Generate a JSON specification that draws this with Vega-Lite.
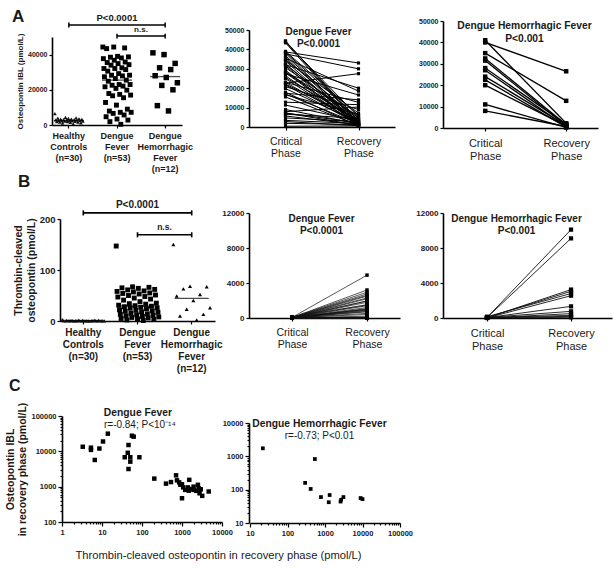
{
  "$schema": "https://vega.github.io/schema/vega-lite/v6.json",
  "padding": {"left": 5, "top": 8, "right": 2, "bottom": 2},
  "config": {
    "font": "Liberation Sans",
    "view": {"stroke": null},
    "axis": {"grid": false, "domainColor": "#000", "domainWidth": 1.6, "tickColor": "#000", "tickWidth": 1.2, "tickSize": 3, "labelFontWeight": "bold", "labelFontSize": 7.5, "labelColor": "#1a1a1a", "titleFontWeight": "bold", "titleColor": "#1a1a1a", "labelPadding": 2, "labelFlush": false, "titlePadding": 3},
    "title": {"color": "#1a1a1a", "subtitleColor": "#1a1a1a", "fontWeight": "bold"},
    "text": {"color": "#1a1a1a"}
  },
  "datasets": {
    "opn": [
      {"group":"HC","id":1,"critical":6400},{"group":"HC","id":12,"critical":4300},{"group":"HC","id":23,"critical":4100},{"group":"HC","id":4,"critical":3850},{"group":"HC","id":15,"critical":3700},{"group":"HC","id":26,"critical":3550},{"group":"HC","id":7,"critical":3400},{"group":"HC","id":18,"critical":3350},{"group":"HC","id":29,"critical":3200},{"group":"HC","id":10,"critical":3100},{"group":"HC","id":21,"critical":3050},{"group":"HC","id":2,"critical":2900},{"group":"HC","id":13,"critical":2800},{"group":"HC","id":24,"critical":2750},{"group":"HC","id":5,"critical":2600},{"group":"HC","id":16,"critical":2500},{"group":"HC","id":27,"critical":2450},{"group":"HC","id":8,"critical":2350},{"group":"HC","id":19,"critical":2300},{"group":"HC","id":30,"critical":2200},{"group":"HC","id":11,"critical":2150},{"group":"HC","id":22,"critical":2000},{"group":"HC","id":3,"critical":1900},{"group":"HC","id":14,"critical":1850},{"group":"HC","id":25,"critical":1700},{"group":"HC","id":6,"critical":1600},{"group":"HC","id":17,"critical":1450},{"group":"HC","id":28,"critical":1250},{"group":"HC","id":9,"critical":1050},{"group":"HC","id":20,"critical":700},
      {"group":"DF","id":1,"critical":44300,"recovery":3200},{"group":"DF","id":21,"critical":44300,"recovery":2100},{"group":"DF","id":41,"critical":43800,"recovery":5200},{"group":"DF","id":8,"critical":43400,"recovery":1500},{"group":"DF","id":28,"critical":39000,"recovery":6100},{"group":"DF","id":48,"critical":38700,"recovery":33000},{"group":"DF","id":15,"critical":38500,"recovery":4300},{"group":"DF","id":35,"critical":38100,"recovery":900},{"group":"DF","id":2,"critical":37700,"recovery":30000},{"group":"DF","id":22,"critical":36800,"recovery":2600},{"group":"DF","id":42,"critical":35800,"recovery":1200},{"group":"DF","id":9,"critical":35500,"recovery":18500},{"group":"DF","id":29,"critical":34900,"recovery":3700},{"group":"DF","id":49,"critical":34300,"recovery":7200},{"group":"DF","id":16,"critical":34000,"recovery":800},{"group":"DF","id":36,"critical":32500,"recovery":1900},{"group":"DF","id":3,"critical":32100,"recovery":20000},{"group":"DF","id":23,"critical":32100,"recovery":2900},{"group":"DF","id":43,"critical":31500,"recovery":600},{"group":"DF","id":10,"critical":30600,"recovery":4800},{"group":"DF","id":30,"critical":29200,"recovery":1100},{"group":"DF","id":50,"critical":28300,"recovery":2300},{"group":"DF","id":17,"critical":28300,"recovery":5600},{"group":"DF","id":37,"critical":27900,"recovery":1400},{"group":"DF","id":4,"critical":27400,"recovery":16500},{"group":"DF","id":24,"critical":26400,"recovery":700},{"group":"DF","id":44,"critical":25500,"recovery":3400},{"group":"DF","id":11,"critical":24900,"recovery":1000},{"group":"DF","id":31,"critical":23000,"recovery":12700},{"group":"DF","id":51,"critical":23000,"recovery":2000},{"group":"DF","id":18,"critical":22600,"recovery":27500},{"group":"DF","id":38,"critical":22100,"recovery":4000},{"group":"DF","id":5,"critical":21700,"recovery":1300},{"group":"DF","id":25,"critical":20800,"recovery":9000},{"group":"DF","id":45,"critical":19800,"recovery":2500},{"group":"DF","id":12,"critical":17900,"recovery":500},{"group":"DF","id":32,"critical":17400,"recovery":14000},{"group":"DF","id":52,"critical":17000,"recovery":1700},{"group":"DF","id":19,"critical":16600,"recovery":6600},{"group":"DF","id":39,"critical":15500,"recovery":850},{"group":"DF","id":6,"critical":12800,"recovery":11500},{"group":"DF","id":26,"critical":11300,"recovery":3000},{"group":"DF","id":46,"critical":9000,"recovery":1600},{"group":"DF","id":13,"critical":7900,"recovery":10300},{"group":"DF","id":33,"critical":7200,"recovery":2200},{"group":"DF","id":53,"critical":7200,"recovery":950},{"group":"DF","id":20,"critical":6600,"recovery":4500},{"group":"DF","id":40,"critical":5700,"recovery":1150},{"group":"DF","id":7,"critical":4700,"recovery":2700},{"group":"DF","id":27,"critical":3400,"recovery":1800},{"group":"DF","id":47,"critical":2800,"recovery":650},{"group":"DF","id":14,"critical":1900,"recovery":1250},{"group":"DF","id":34,"critical":400,"recovery":550},
      {"group":"DHF","id":1,"critical":41000,"recovery":2200},{"group":"DHF","id":6,"critical":40000,"recovery":26500},{"group":"DHF","id":11,"critical":35000,"recovery":12700},{"group":"DHF","id":4,"critical":32500,"recovery":1500},{"group":"DHF","id":9,"critical":31500,"recovery":900},{"group":"DHF","id":2,"critical":28000,"recovery":1800},{"group":"DHF","id":7,"critical":27000,"recovery":600},{"group":"DHF","id":12,"critical":24000,"recovery":1200},{"group":"DHF","id":5,"critical":22500,"recovery":400},{"group":"DHF","id":10,"critical":20000,"recovery":1000},{"group":"DHF","id":3,"critical":11000,"recovery":300},{"group":"DHF","id":8,"critical":8000,"recovery":700}
    ],
    "tc": [
      {"group":"HC","id":1,"critical":2.5},{"group":"HC","id":12,"critical":1.8},{"group":"HC","id":23,"critical":1.5},{"group":"HC","id":4,"critical":1.4},{"group":"HC","id":15,"critical":1.2},{"group":"HC","id":26,"critical":1.1},{"group":"HC","id":7,"critical":1.0},{"group":"HC","id":18,"critical":0.9},{"group":"HC","id":29,"critical":0.9},{"group":"HC","id":10,"critical":0.8},{"group":"HC","id":21,"critical":0.8},{"group":"HC","id":2,"critical":0.7},{"group":"HC","id":13,"critical":0.7},{"group":"HC","id":24,"critical":0.6},{"group":"HC","id":5,"critical":0.6},{"group":"HC","id":16,"critical":0.5},{"group":"HC","id":27,"critical":0.5},{"group":"HC","id":8,"critical":0.5},{"group":"HC","id":19,"critical":0.4},{"group":"HC","id":30,"critical":0.4},{"group":"HC","id":11,"critical":0.3},{"group":"HC","id":22,"critical":0.3},{"group":"HC","id":3,"critical":0.3},{"group":"HC","id":14,"critical":0.2},{"group":"HC","id":25,"critical":0.2},{"group":"HC","id":6,"critical":0.2},{"group":"HC","id":17,"critical":0.1},{"group":"HC","id":28,"critical":0.1},{"group":"HC","id":9,"critical":0.1},{"group":"HC","id":20,"critical":0},
      {"group":"DF","id":1,"critical":147,"recovery":1480},{"group":"DF","id":21,"critical":67,"recovery":2600},{"group":"DF","id":41,"critical":66,"recovery":4900},{"group":"DF","id":8,"critical":65,"recovery":30},{"group":"DF","id":28,"critical":64,"recovery":1000},{"group":"DF","id":48,"critical":62,"recovery":3200},{"group":"DF","id":15,"critical":61,"recovery":56},{"group":"DF","id":35,"critical":59,"recovery":2290},{"group":"DF","id":2,"critical":58,"recovery":750},{"group":"DF","id":22,"critical":57,"recovery":1950},{"group":"DF","id":42,"critical":55,"recovery":12},{"group":"DF","id":9,"critical":54,"recovery":2950},{"group":"DF","id":29,"critical":53,"recovery":398},{"group":"DF","id":49,"critical":51,"recovery":1520},{"group":"DF","id":16,"critical":50,"recovery":5.3},{"group":"DF","id":36,"critical":48,"recovery":2750},{"group":"DF","id":3,"critical":47,"recovery":910},{"group":"DF","id":23,"critical":45,"recovery":46},{"group":"DF","id":43,"critical":43,"recovery":2500},{"group":"DF","id":10,"critical":41,"recovery":1800},{"group":"DF","id":30,"critical":38,"recovery":203},{"group":"DF","id":50,"critical":35,"recovery":1070},{"group":"DF","id":17,"critical":34,"recovery":20},{"group":"DF","id":37,"critical":33,"recovery":1950},{"group":"DF","id":4,"critical":31,"recovery":850},{"group":"DF","id":24,"critical":30,"recovery":1400},{"group":"DF","id":44,"critical":29,"recovery":62},{"group":"DF","id":11,"critical":28,"recovery":1200},{"group":"DF","id":31,"critical":27,"recovery":3.3},{"group":"DF","id":51,"critical":26,"recovery":710},{"group":"DF","id":18,"critical":25,"recovery":1000},{"group":"DF","id":38,"critical":24,"recovery":86},{"group":"DF","id":5,"critical":22,"recovery":530},{"group":"DF","id":25,"critical":21,"recovery":14},{"group":"DF","id":45,"critical":20,"recovery":2200},{"group":"DF","id":12,"critical":19,"recovery":51},{"group":"DF","id":32,"critical":18,"recovery":8.6},{"group":"DF","id":52,"critical":17,"recovery":25},{"group":"DF","id":19,"critical":15,"recovery":44},{"group":"DF","id":39,"critical":14,"recovery":5.3},{"group":"DF","id":6,"critical":13,"recovery":37},{"group":"DF","id":26,"critical":12,"recovery":10.6},{"group":"DF","id":46,"critical":11,"recovery":15},{"group":"DF","id":13,"critical":10,"recovery":6.6},{"group":"DF","id":33,"critical":9,"recovery":51},{"group":"DF","id":53,"critical":8,"recovery":9},{"group":"DF","id":20,"critical":7,"recovery":46},{"group":"DF","id":40,"critical":6,"recovery":18},{"group":"DF","id":7,"critical":5,"recovery":7},{"group":"DF","id":27,"critical":4,"recovery":3},{"group":"DF","id":47,"critical":3,"recovery":2},{"group":"DF","id":14,"critical":2,"recovery":1},{"group":"DF","id":34,"critical":1,"recovery":5},
      {"group":"DHF","id":1,"critical":150,"recovery":2800},{"group":"DHF","id":6,"critical":68,"recovery":10100},{"group":"DHF","id":11,"critical":67,"recovery":760},{"group":"DHF","id":4,"critical":63,"recovery":3050},{"group":"DHF","id":9,"critical":52,"recovery":9100},{"group":"DHF","id":2,"critical":49,"recovery":300},{"group":"DHF","id":7,"critical":40,"recovery":1330},{"group":"DHF","id":12,"critical":26,"recovery":3250},{"group":"DHF","id":5,"critical":23,"recovery":190},{"group":"DHF","id":10,"critical":13,"recovery":2550},{"group":"DHF","id":3,"critical":10,"recovery":500},{"group":"DHF","id":8,"critical":2,"recovery":80}
    ],
    "recov": [
      {"group":"DF","tc":3.3,"opn":13500},{"group":"DF","tc":5.3,"opn":12700},{"group":"DF","tc":5.3,"opn":11000},{"group":"DF","tc":6.6,"opn":5700},{"group":"DF","tc":8.6,"opn":12000},{"group":"DF","tc":10.6,"opn":19000},{"group":"DF","tc":14,"opn":31600},{"group":"DF","tc":44,"opn":9100},{"group":"DF","tc":46,"opn":15100},{"group":"DF","tc":37,"opn":6800},{"group":"DF","tc":51,"opn":6800},{"group":"DF","tc":51,"opn":5100},{"group":"DF","tc":46,"opn":3160},{"group":"DF","tc":56,"opn":27700},{"group":"DF","tc":62,"opn":26000},{"group":"DF","tc":86,"opn":6800},{"group":"DF","tc":203,"opn":1690},{"group":"DF","tc":398,"opn":1220},{"group":"DF","tc":530,"opn":1350},{"group":"DF","tc":710,"opn":2090},{"group":"DF","tc":750,"opn":1510},{"group":"DF","tc":850,"opn":1320},{"group":"DF","tc":910,"opn":1130},{"group":"DF","tc":1000,"opn":1170},{"group":"DF","tc":1070,"opn":955},{"group":"DF","tc":1000,"opn":470},{"group":"DF","tc":1200,"opn":810},{"group":"DF","tc":1400,"opn":955},{"group":"DF","tc":1520,"opn":1560},{"group":"DF","tc":1480,"opn":770},{"group":"DF","tc":1800,"opn":860},{"group":"DF","tc":1950,"opn":810},{"group":"DF","tc":2290,"opn":760},{"group":"DF","tc":2500,"opn":1130},{"group":"DF","tc":2600,"opn":900},{"group":"DF","tc":2750,"opn":650},{"group":"DF","tc":2950,"opn":840},{"group":"DF","tc":3200,"opn":550},{"group":"DF","tc":4650,"opn":730},{"group":"DF","tc":1950,"opn":1000},
      {"group":"DHF","tc":22,"opn":1740},{"group":"DHF","tc":537,"opn":830},{"group":"DHF","tc":295,"opn":160},{"group":"DHF","tc":415,"opn":105},{"group":"DHF","tc":780,"opn":60},{"group":"DHF","tc":1260,"opn":42},{"group":"DHF","tc":1330,"opn":69},{"group":"DHF","tc":2600,"opn":44},{"group":"DHF","tc":3100,"opn":60},{"group":"DHF","tc":8900,"opn":56},{"group":"DHF","tc":10000,"opn":52},{"group":"DHF","tc":2700,"opn":50}
    ]
  },
  "columns": 3,
  "bounds": "flush",
  "spacing": {"row": 85, "column": 25},
  "concat": [
    {
      "width": 172, "height": 104,
      "title": {"text": "A", "anchor": "start", "frame": "group", "fontSize": 17, "dx": -40, "offset": -13},
      "resolve": {"scale": {"xOffset": "independent"}},
      "layer": [
        {"data": {"name": "opn"}, "transform": [{"filter": "datum.group == 'HC'"}],
         "mark": {"type": "point", "shape": "triangle-up", "filled": true, "size": 14, "color": "#111", "opacity": 1},
         "encoding": {
           "x": {"field": "group", "type": "nominal", "scale": {"domain": ["HC", "DF", "DHF"], "range": [0, 130], "paddingInner": 0.4, "paddingOuter": 0.05},
                 "axis": {"title": null, "labelAngle": 0, "labelFontSize": 9, "labelLineHeight": 11, "labelPadding": 3, "labelExpr": "datum.value == 'HC' ? ['Healthy','Controls','(n=30)'] : datum.value == 'DF' ? ['Dengue','Fever','(n=53)'] : ['Dengue','Hemorrhagic','Fever','(n=12)']"}},
           "xOffset": {"field": "id", "type": "ordinal"},
           "y": {"field": "critical", "type": "quantitative", "scale": {"domain": [0, 50000], "range": [104, 16], "nice": false},
                 "axis": {"values": [0, 10000, 20000, 30000, 40000, 50000], "format": "d", "title": "Osteopontin IBL (pmol/L)", "titleFontSize": 8, "labelFontSize": 7}}
         }},
        {"data": {"name": "opn"}, "transform": [{"filter": "datum.group == 'DF'"}],
         "mark": {"type": "square", "filled": true, "size": 24, "color": "#000", "opacity": 1},
         "encoding": {"x": {"field": "group", "type": "nominal"}, "xOffset": {"field": "id", "type": "ordinal"}, "y": {"field": "critical", "type": "quantitative"}}},
        {"data": {"name": "opn"}, "transform": [{"filter": "datum.group == 'DHF'"}],
         "mark": {"type": "square", "filled": true, "size": 30, "color": "#000", "opacity": 1},
         "encoding": {"x": {"field": "group", "type": "nominal"}, "xOffset": {"field": "id", "type": "ordinal", "scale": {"paddingOuter": 4}}, "y": {"field": "critical", "type": "quantitative"}}},
        {"data": {"name": "opn"}, "transform": [{"aggregate": [{"op": "median", "field": "critical", "as": "critical"}], "groupby": ["group"]}],
         "mark": {"type": "tick", "orient": "horizontal", "size": 30, "thickness": 1.3, "color": "#000"},
         "encoding": {"x": {"field": "group", "type": "nominal"}, "y": {"field": "critical", "type": "quantitative"}}},
        {"data": {"values": [{}]}, "mark": {"type": "rule", "color": "#000", "strokeWidth": 1.5},
         "encoding": {"x": {"datum": "HC"}, "x2": {"datum": "DHF"}, "y": {"datum": 56800}}},
        {"data": {"values": [{"g": "HC"}, {"g": "DHF"}]}, "mark": {"type": "rule", "color": "#000", "strokeWidth": 1.5},
         "encoding": {"x": {"field": "g", "type": "nominal"}, "y": {"datum": 55400}, "y2": {"datum": 58200}}},
        {"data": {"values": [{}]}, "mark": {"type": "rule", "color": "#000", "strokeWidth": 1.5},
         "encoding": {"x": {"datum": "DF"}, "x2": {"datum": "DHF"}, "y": {"datum": 50500}}},
        {"data": {"values": [{"g": "DF"}, {"g": "DHF"}]}, "mark": {"type": "rule", "color": "#000", "strokeWidth": 1.5},
         "encoding": {"x": {"field": "g", "type": "nominal"}, "y": {"datum": 49100}, "y2": {"datum": 51900}}},
        {"data": {"values": [{}]}, "mark": {"type": "text", "fontSize": 9.5, "fontWeight": "bold", "baseline": "bottom", "dy": -2},
         "encoding": {"x": {"datum": "DF"}, "y": {"datum": 56800}, "text": {"value": "P<0.0001"}}},
        {"data": {"values": [{}]}, "mark": {"type": "text", "fontSize": 8, "fontWeight": "bold", "baseline": "bottom", "dy": -2, "dx": 24},
         "encoding": {"x": {"datum": "DF"}, "y": {"datum": 50500}, "text": {"value": "n.s."}}}
      ]
    },
    {
      "width": 169, "height": 106,
      "title": {"text": ["Dengue  Fever", "P<0.0001"], "anchor": "middle", "frame": "group", "fontSize": 10, "lineHeight": 12.5, "dx": -15, "offset": -28},
      "data": {"name": "opn"},
      "transform": [{"filter": "datum.group == 'DF'"}, {"fold": ["critical", "recovery"], "as": ["phase", "value"]}],
      "encoding": {
        "x": {"field": "phase", "type": "nominal", "sort": ["critical", "recovery"], "scale": {"type": "point", "range": [0, 146], "padding": 0.5},
              "axis": {"title": null, "labelAngle": 0, "labelFontWeight": "normal", "labelFontSize": 10.5, "labelLineHeight": 12.5, "labelPadding": 6, "labelExpr": "datum.value == 'critical' ? ['Critical','Phase'] : ['Recovery','Phase']"}},
        "y": {"field": "value", "type": "quantitative", "scale": {"domain": [0, 50000], "range": [106, 9], "nice": false},
              "axis": {"values": [0, 10000, 20000, 30000, 40000, 50000], "format": "d", "title": null, "labelFontSize": 7}}
      },
      "layer": [
        {"mark": {"type": "line", "color": "#000", "strokeWidth": 1}, "encoding": {"detail": {"field": "id", "type": "nominal"}}},
        {"mark": {"type": "square", "filled": true, "size": 10, "color": "#000", "opacity": 1}}
      ]
    },
    {
      "width": 169, "height": 107,
      "title": {"text": ["Dengue Hemorrhagic Fever", "P<0.001"], "anchor": "middle", "frame": "group", "fontSize": 10.3, "lineHeight": 12.5, "dx": -3, "offset": -27},
      "data": {"name": "opn"},
      "transform": [{"filter": "datum.group == 'DHF'"}, {"fold": ["critical", "recovery"], "as": ["phase", "value"]}],
      "encoding": {
        "x": {"field": "phase", "type": "nominal", "sort": ["critical", "recovery"], "scale": {"type": "point", "range": [0, 155], "padding": 0.457, "align": 0.57},
              "axis": {"title": null, "labelAngle": 0, "labelFontWeight": "normal", "labelFontSize": 11, "labelLineHeight": 13, "labelPadding": 6, "labelExpr": "datum.value == 'critical' ? ['Critical','Phase'] : ['Recovery','Phase']"}},
        "y": {"field": "value", "type": "quantitative", "scale": {"domain": [0, 50000], "nice": false},
              "axis": {"values": [0, 10000, 20000, 30000, 40000, 50000], "format": "d", "title": null, "labelFontSize": 7}}
      },
      "layer": [
        {"mark": {"type": "line", "color": "#000", "strokeWidth": 1.3}, "encoding": {"detail": {"field": "id", "type": "nominal"}}},
        {"mark": {"type": "square", "filled": true, "size": 20, "color": "#000", "opacity": 1}}
      ]
    },
    {
      "width": 172, "height": 108,
      "title": {"text": "B", "anchor": "start", "frame": "group", "fontSize": 17, "dx": -34, "offset": 9},
      "resolve": {"scale": {"xOffset": "independent"}},
      "layer": [
        {"data": {"name": "tc"}, "transform": [{"filter": "datum.group == 'HC'"}],
         "mark": {"type": "point", "shape": "triangle-up", "filled": true, "size": 14, "color": "#111", "opacity": 1},
         "encoding": {
           "x": {"field": "group", "type": "nominal", "scale": {"domain": ["HC", "DF", "DHF"], "range": [8, 163], "paddingInner": 0.2, "paddingOuter": 0.03},
                 "axis": {"title": null, "labelAngle": 0, "labelFontSize": 10, "labelLineHeight": 12, "labelPadding": 3, "labelExpr": "datum.value == 'HC' ? ['Healthy','Controls','(n=30)'] : datum.value == 'DF' ? ['Dengue','Fever','(n=53)'] : ['Dengue','Hemorrhagic','Fever','(n=12)']"}},
           "xOffset": {"field": "id", "type": "ordinal"},
           "y": {"field": "critical", "type": "quantitative", "scale": {"domain": [0, 200], "range": [108, 6], "nice": false},
                 "axis": {"offset": -8, "values": [0, 50, 100, 150, 200], "format": "d", "title": ["Thrombin-cleaved", "osteopontin (pmol/L)"], "titleFontSize": 10.5, "labelFontSize": 9.5}}
         }},
        {"data": {"name": "tc"}, "transform": [{"filter": "datum.group == 'DF'"}],
         "mark": {"type": "square", "filled": true, "size": 24, "color": "#000", "opacity": 1},
         "encoding": {"x": {"field": "group", "type": "nominal"}, "xOffset": {"field": "id", "type": "ordinal"}, "y": {"field": "critical", "type": "quantitative"}}},
        {"data": {"name": "tc"}, "transform": [{"filter": "datum.group == 'DHF'"}],
         "mark": {"type": "point", "shape": "triangle-up", "filled": true, "size": 16, "color": "#000", "opacity": 1},
         "encoding": {"x": {"field": "group", "type": "nominal"}, "xOffset": {"field": "id", "type": "ordinal", "scale": {"paddingOuter": 4}}, "y": {"field": "critical", "type": "quantitative"}}},
        {"data": {"name": "tc"}, "transform": [{"aggregate": [{"op": "median", "field": "critical", "as": "critical"}], "groupby": ["group"]}],
         "mark": {"type": "tick", "orient": "horizontal", "size": 34, "thickness": 1.3, "color": "#000"},
         "encoding": {"x": {"field": "group", "type": "nominal"}, "y": {"field": "critical", "type": "quantitative"}}},
        {"data": {"values": [{}]}, "mark": {"type": "rule", "color": "#000", "strokeWidth": 1.6},
         "encoding": {"x": {"datum": "HC"}, "x2": {"datum": "DHF"}, "y": {"datum": 212}}},
        {"data": {"values": [{"g": "HC"}, {"g": "DHF"}]}, "mark": {"type": "rule", "color": "#000", "strokeWidth": 1.6},
         "encoding": {"x": {"field": "g", "type": "nominal"}, "y": {"datum": 207}, "y2": {"datum": 217}}},
        {"data": {"values": [{}]}, "mark": {"type": "rule", "color": "#000", "strokeWidth": 1.6},
         "encoding": {"x": {"datum": "DF"}, "x2": {"datum": "DHF"}, "y": {"datum": 169}}},
        {"data": {"values": [{"g": "DF"}, {"g": "DHF"}]}, "mark": {"type": "rule", "color": "#000", "strokeWidth": 1.6},
         "encoding": {"x": {"field": "g", "type": "nominal"}, "y": {"datum": 164}, "y2": {"datum": 174}}},
        {"data": {"values": [{}]}, "mark": {"type": "text", "fontSize": 10, "fontWeight": "bold", "baseline": "bottom", "dy": -3},
         "encoding": {"x": {"datum": "DF"}, "y": {"datum": 212}, "text": {"value": "P<0.0001"}}},
        {"data": {"values": [{}]}, "mark": {"type": "text", "fontSize": 8.5, "fontWeight": "bold", "baseline": "bottom", "dy": -3, "dx": 27},
         "encoding": {"x": {"datum": "DF"}, "y": {"datum": 169}, "text": {"value": "n.s."}}}
      ]
    },
    {
      "width": 169, "height": 105,
      "title": {"text": ["Dengue Fever", "P<0.0001"], "anchor": "middle", "frame": "group", "fontSize": 10, "lineHeight": 12.5, "dx": -12, "offset": -27},
      "data": {"name": "tc"},
      "transform": [{"filter": "datum.group == 'DF'"}, {"fold": ["critical", "recovery"], "as": ["phase", "value"]}],
      "encoding": {
        "x": {"field": "phase", "type": "nominal", "sort": ["critical", "recovery"], "scale": {"type": "point", "range": [0, 151], "padding": 0.507, "align": 0.566},
              "axis": {"title": null, "labelAngle": 0, "labelFontWeight": "normal", "labelFontSize": 10.5, "labelLineHeight": 12.5, "labelPadding": 6, "labelExpr": "datum.value == 'critical' ? ['Critical','Phase'] : ['Recovery','Phase']"}},
        "y": {"field": "value", "type": "quantitative", "scale": {"domain": [0, 12000], "nice": false},
              "axis": {"values": [0, 4000, 8000, 12000], "format": "d", "title": null, "labelFontSize": 8}}
      },
      "layer": [
        {"mark": {"type": "line", "color": "#111", "strokeWidth": 0.7}, "encoding": {"detail": {"field": "id", "type": "nominal"}}},
        {"mark": {"type": "square", "filled": true, "size": 12, "color": "#000", "opacity": 1}}
      ]
    },
    {
      "width": 169, "height": 105,
      "title": {"text": ["Dengue Hemorrhagic Fever", "P<0.001"], "anchor": "middle", "frame": "group", "fontSize": 10, "lineHeight": 12.5, "dx": -11, "offset": -27},
      "data": {"name": "tc"},
      "transform": [{"filter": "datum.group == 'DHF'"}, {"fold": ["critical", "recovery"], "as": ["phase", "value"]}],
      "encoding": {
        "x": {"field": "phase", "type": "nominal", "sort": ["critical", "recovery"], "scale": {"type": "point", "range": [0, 169], "padding": 0.506, "align": 0.518},
              "axis": {"title": null, "labelAngle": 0, "labelFontWeight": "normal", "labelFontSize": 11, "labelLineHeight": 13, "labelPadding": 6, "labelExpr": "datum.value == 'critical' ? ['Critical','Phase'] : ['Recovery','Phase']"}},
        "y": {"field": "value", "type": "quantitative", "scale": {"domain": [0, 12000], "nice": false},
              "axis": {"values": [0, 4000, 8000, 12000], "format": "d", "title": null, "labelFontSize": 8}}
      },
      "layer": [
        {"mark": {"type": "line", "color": "#111", "strokeWidth": 0.9}, "encoding": {"detail": {"field": "id", "type": "nominal"}}},
        {"mark": {"type": "square", "filled": true, "size": 18, "color": "#000", "opacity": 1}}
      ]
    },
    {
      "width": 172, "height": 116,
      "title": {"text": "C", "anchor": "start", "frame": "group", "fontSize": 16, "dx": -43, "offset": 8},
      "layer": [
        {"data": {"name": "recov"}, "transform": [{"filter": "datum.group == 'DF'"}],
         "mark": {"type": "square", "filled": true, "size": 20, "color": "#000", "opacity": 1},
         "encoding": {
           "x": {"field": "tc", "type": "quantitative", "scale": {"type": "log", "domain": [1, 10000], "range": [10, 170], "nice": false},
                 "axis": {"values": [1,2,3,4,5,6,7,8,9,10,20,30,40,50,60,70,80,90,100,200,300,400,500,600,700,800,900,1000,2000,3000,4000,5000,6000,7000,8000,9000,10000],
                          "format": "d", "labelOverlap": false, "labelFontSize": 7.5,
                          "labelExpr": "indexof([1,10,100,1000,10000,100000], datum.value) >= 0 ? datum.label : ''",
                          "tickSize": {"condition": {"test": "indexof([1,10,100,1000,10000,100000], datum.value) >= 0", "value": 4}, "value": 2},
                          "title": "Thrombin-cleaved osteopontin in recovery phase (pmol/L)", "titleFontWeight": "normal", "titleFontSize": 11.2,
                          "titleX": 166, "titleY": 33, "titleAlign": "center", "titleBaseline": "middle"}},
           "y": {"field": "opn", "type": "quantitative", "scale": {"type": "log", "domain": [100, 100000], "range": [116, 10], "nice": false},
                 "axis": {"offset": -10, "values": [100,200,300,400,500,600,700,800,900,1000,2000,3000,4000,5000,6000,7000,8000,9000,10000,20000,30000,40000,50000,60000,70000,80000,90000,100000],
                          "format": "d", "labelOverlap": false, "labelFontSize": 7.5,
                          "labelExpr": "indexof([1,10,100,1000,10000,100000], datum.value) >= 0 ? datum.label : ''",
                          "tickSize": {"condition": {"test": "indexof([1,10,100,1000,10000,100000], datum.value) >= 0", "value": 4}, "value": 2},
                          "title": ["Osteopontin IBL", "in recovery phase (pmol/L)"], "titleFontSize": 10.5}}
         }},
        {"data": {"values": [{}]}, "mark": {"type": "text", "fontSize": 10.3, "fontWeight": "bold", "baseline": "middle"},
         "encoding": {"x": {"datum": 79}, "y": {"datum": 121600}, "text": {"value": "Dengue Fever"}}},
        {"data": {"values": [{}]}, "mark": {"type": "text", "fontSize": 10, "align": "left", "baseline": "middle"},
         "encoding": {"x": {"datum": 11.2}, "y": {"datum": 55600}, "text": {"value": "r=-0.84; P<10⁻¹⁴"}}}
      ]
    },
    {
      "width": 169, "height": 117,
      "title": {"text": "Dengue Hemorrhagic Fever", "subtitle": "r=-0.73; P<0.01", "anchor": "middle", "frame": "group", "fontSize": 10.3, "subtitleFontSize": 10, "subtitleFontWeight": "normal", "subtitlePadding": 2, "dx": -14, "offset": -35},
      "data": {"name": "recov"},
      "transform": [{"filter": "datum.group == 'DHF'"}],
      "mark": {"type": "square", "filled": true, "size": 14, "color": "#000", "opacity": 1},
      "encoding": {
        "x": {"field": "tc", "type": "quantitative", "scale": {"type": "log", "domain": [10, 100000], "range": [1, 151], "nice": false},
              "axis": {"values": [10,20,30,40,50,60,70,80,90,100,200,300,400,500,600,700,800,900,1000,2000,3000,4000,5000,6000,7000,8000,9000,10000,20000,30000,40000,50000,60000,70000,80000,90000,100000],
                       "format": "d", "labelOverlap": false, "labelFontSize": 7.5, "title": null,
                       "labelExpr": "indexof([1,10,100,1000,10000,100000], datum.value) >= 0 ? datum.label : ''",
                       "tickSize": {"condition": {"test": "indexof([1,10,100,1000,10000,100000], datum.value) >= 0", "value": 4}, "value": 2}}},
        "y": {"field": "opn", "type": "quantitative", "scale": {"type": "log", "domain": [10, 10000], "range": [117, 17], "nice": false},
              "axis": {"values": [10,20,30,40,50,60,70,80,90,100,200,300,400,500,600,700,800,900,1000,2000,3000,4000,5000,6000,7000,8000,9000,10000],
                       "format": "d", "labelOverlap": false, "labelFontSize": 7.5, "title": null,
                       "labelExpr": "indexof([1,10,100,1000,10000,100000], datum.value) >= 0 ? datum.label : ''",
                       "tickSize": {"condition": {"test": "indexof([1,10,100,1000,10000,100000], datum.value) >= 0", "value": 4}, "value": 2}}}
      }
    }
  ]
}
